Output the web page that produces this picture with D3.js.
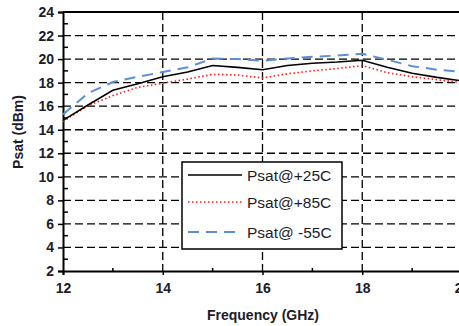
<!DOCTYPE html>
<html>
<head>
<meta charset="utf-8">
<script src="https://cdn.jsdelivr.net/npm/d3@7"></script>
<style>
  body { margin: 0; background: #fff; }
  text { font-family: "Liberation Sans", Arial, sans-serif; }
</style>
</head>
<body>
<script>
// frequency points (GHz)
var freq = [12, 12.5, 13, 13.5, 14, 14.5, 15, 15.5, 16, 16.5, 17, 17.5, 18, 18.5, 19, 19.5, 20];
// Psat values (dBm)
var psat25 = [14.8, 16.1, 17.35, 17.9, 18.5, 18.9, 19.45, 19.3, 19.1, 19.45, 19.65, 19.75, 19.9, 19.3, 18.8, 18.45, 18.15];
var psat85 = [14.7, 16.05, 16.9, 17.6, 17.95, 18.3, 18.7, 18.65, 18.4, 18.75, 19.0, 19.2, 19.45, 18.85, 18.5, 18.25, 18.0];
var psatM55 = [15.3, 17.1, 18.05, 18.5, 18.9, 19.3, 20.05, 20.0, 19.85, 20.05, 20.2, 20.3, 20.45, 19.95, 19.4, 19.1, 18.9];

var xTicks = [12, 14, 16, 18, 20];
var xMinor = [13, 15, 17, 19];
var yTicks = [2, 4, 6, 8, 10, 12, 14, 16, 18, 20, 22, 24];
var yMinor = [3, 5, 7, 9, 11, 13, 15, 17, 19, 21, 23];
var seriesNames = ["Psat@+25C", "Psat@+85C", "Psat@ -55C"];

var w = 459, h = 326;
var svg = d3.select("body").append("svg")
    .attr("width", w)
    .attr("height", h);

var x = d3.scaleLinear().domain([12, 20]).range([63, 462]);
var y = d3.scaleLinear().domain([2, 24]).range([271, 12]);

// gridlines
svg.selectAll(".hgrid")
    .data(yTicks.filter(function(d){ return d > 2 && d < 24; }))
    .enter().append("line")
    .attr("x1", x(12)).attr("x2", w)
    .attr("y1", function(d){ return y(d); })
    .attr("y2", function(d){ return y(d); })
    .style("stroke", "#000").style("stroke-width", 1.3)
    .style("stroke-dasharray", "8,4");

svg.selectAll(".vgrid")
    .data([14, 16, 18])
    .enter().append("line")
    .attr("x1", function(d){ return x(d); })
    .attr("x2", function(d){ return x(d); })
    .attr("y1", y(24)).attr("y2", y(2))
    .style("stroke", "#000").style("stroke-width", 1.3)
    .style("stroke-dasharray", "8,4");

// top border
svg.append("line")
    .attr("x1", x(12)).attr("x2", w)
    .attr("y1", y(24)).attr("y2", y(24))
    .style("stroke", "#000").style("stroke-width", 2);

// axes
var yAxis = d3.axisLeft(y).tickValues(yTicks).tickSize(5).tickPadding(4);
var gy = svg.append("g").attr("transform", "translate(" + x(12) + ",0)").call(yAxis);
var xAxis = d3.axisBottom(x).tickValues(xTicks).tickSize(4).tickPadding(8);
var gx = svg.append("g").attr("transform", "translate(0," + y(2) + ")").call(xAxis);

[gy, gx].forEach(function(g){
  g.select(".domain").style("stroke", "#000").style("stroke-width", 2);
  g.selectAll(".tick line").style("stroke", "#000").style("stroke-width", 1.5);
  g.selectAll(".tick text")
      .style("font-size", "14px")
      .style("font-weight", "bold")
      .style("fill", "#1c1c2a")
      .style("font-family", "'Liberation Sans', Arial, sans-serif");
});

// minor ticks
svg.selectAll(".ymin")
    .data(yMinor)
    .enter().append("line")
    .attr("x1", x(12)).attr("x2", x(12) + 5)
    .attr("y1", function(d){ return y(d); })
    .attr("y2", function(d){ return y(d); })
    .style("stroke", "#000").style("stroke-width", 1.5);

svg.selectAll(".xmin")
    .data(xMinor)
    .enter().append("line")
    .attr("x1", function(d){ return x(d); })
    .attr("x2", function(d){ return x(d); })
    .attr("y1", y(2)).attr("y2", y(2) - 3)
    .style("stroke", "#000").style("stroke-width", 1.5);

// series
var line = d3.line()
    .x(function(d){ return x(d[0]); })
    .y(function(d){ return y(d[1]); });

function pairs(vals) {
  return freq.map(function(f, i){ return [f, vals[i]]; });
}

var styles = [
  {data: psatM55, color: "#5a8fd8", width: 2, dash: "11,7"},
  {data: psat85, color: "#ff1a1a", width: 1.6, dash: "1.5,2.5"},
  {data: psat25, color: "#000", width: 1.6, dash: null}
];

styles.forEach(function(s){
  svg.append("path")
      .datum(pairs(s.data))
      .attr("d", line)
      .style("fill", "none")
      .style("stroke", s.color)
      .style("stroke-width", s.width)
      .style("stroke-dasharray", s.dash);
});

// legend
var legend = svg.append("g");
legend.append("rect")
    .attr("x", 182).attr("y", 162)
    .attr("width", 160).attr("height", 87)
    .style("fill", "#fff").style("stroke", "#000").style("stroke-width", 1.5);

var legRows = [175, 202, 232];
var legStyles = [styles[2], styles[1], styles[0]];
seriesNames.forEach(function(name, i){
  var s = legStyles[i];
  legend.append("line")
      .attr("x1", 188).attr("x2", 242)
      .attr("y1", legRows[i]).attr("y2", legRows[i])
      .style("stroke", s.color)
      .style("stroke-width", s.width)
      .style("stroke-dasharray", s.dash);
  legend.append("text")
      .attr("x", 247).attr("y", legRows[i])
      .attr("dy", "0.36em")
      .style("font-size", "15.5px")
      .style("fill", "#1c1c2a")
      .text(name);
});

// axis titles
svg.append("text")
    .attr("x", 263).attr("y", 320)
    .attr("text-anchor", "middle")
    .style("font-size", "14px")
    .style("font-weight", "bold")
    .style("fill", "#1c1c2a")
    .text("Frequency (GHz)");

svg.append("text")
    .attr("transform", "translate(23,132) rotate(-90)")
    .attr("text-anchor", "middle")
    .style("font-size", "14px")
    .style("font-weight", "bold")
    .style("fill", "#1c1c2a")
    .text("Psat (dBm)");
</script>
</body>
</html>
